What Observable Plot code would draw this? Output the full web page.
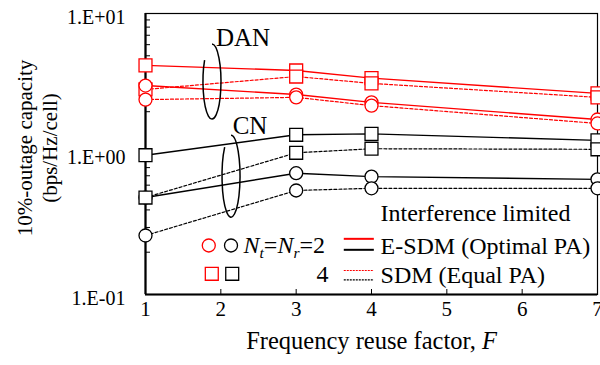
<!DOCTYPE html>
<html><head><meta charset="utf-8">
<script src="https://cdn.jsdelivr.net/npm/d3@7"></script>
<script src="https://cdn.jsdelivr.net/npm/@observablehq/plot@0.6"></script>
<style>
html,body{margin:0;padding:0;background:#fff;}
#chart svg{display:block;}
</style>
</head><body><div id="chart"></div>
<script>
// ---- data ----
const reuseF = [1, 3, 4, 7];
const danEsdm4 = [4.27, 3.93, 3.47, 2.70];
const danSdm4  = [2.88, 3.56, 3.18, 2.53];
const danEsdm2 = [3.07, 2.65, 2.33, 1.76];
const danSdm2  = [2.44, 2.53, 2.21, 1.65];
const cnEsdm4  = [0.98, 1.37, 1.39, 1.25];
const cnSdm4   = [0.49, 1.02, 1.09, 1.08];
const cnEsdm2  = [0.49, 0.73, 0.69, 0.66];
const cnSdm2   = [0.263, 0.55, 0.57, 0.57];

const xTicks = [1, 2, 3, 4, 5, 6, 7];
const xInnerTicks = [2, 3, 4, 5, 6];
const yTicks = [0.1, 1, 10];
const yTickLabels = ["1.E-01", "1.E+00", "1.E+01"];
const yMinorTicks = [0.2,0.3,0.4,0.5,0.6,0.7,0.8,0.9,2,3,4,5,6,7,8,9];

// ---- table ----
const rows = [];
function addSeries(net, scheme, ant, vals) {
  reuseF.forEach((f, i) => rows.push({F: f, v: vals[i], net, scheme, ant, key: net + scheme + ant}));
}
addSeries("DAN", "E-SDM", 4, danEsdm4);
addSeries("DAN", "SDM", 4, danSdm4);
addSeries("DAN", "E-SDM", 2, danEsdm2);
addSeries("DAN", "SDM", 2, danSdm2);
addSeries("CN", "E-SDM", 4, cnEsdm4);
addSeries("CN", "SDM", 4, cnSdm4);
addSeries("CN", "E-SDM", 2, cnEsdm2);
addSeries("CN", "SDM", 2, cnSdm2);

const RED = "#ff0000", BLK = "#000000";
const sel = (net, scheme, ant) => rows.filter(d => d.net === net && (scheme == null || d.scheme === scheme) && (ant == null || d.ant === ant));

function lineMarks(net, color) {
  return [
    Plot.line(sel(net, "E-SDM"), {x: "F", y: "v", z: "key", stroke: color, strokeWidth: 1.4}),
    Plot.line(sel(net, "SDM"), {x: "F", y: "v", z: "key", stroke: color, strokeWidth: 1.2, strokeDasharray: "3,2"})
  ];
}
function dotMark(net, ant, color) {
  return Plot.dot(sel(net, null, ant), {
    x: "F", y: "v", symbol: ant === 2 ? "circle" : "square", r: ant === 2 ? 6.5 : 7.3,
    fill: "white", stroke: color, strokeWidth: 1.3
  });
}

function ellipse(cxF, cyV, rx, ry, a0deg, a1deg) {
  return (index, scales) => {
    const cx = scales.x(cxF), cy = scales.y(cyV);
    const a0 = a0deg * Math.PI / 180, a1 = a1deg * Math.PI / 180;
    const p0 = [cx + rx * Math.cos(a0), cy + ry * Math.sin(a0)];
    const p1 = [cx + rx * Math.cos(a1), cy + ry * Math.sin(a1)];
    const g = d3.create("svg:g");
    g.append("path").attr("d", `M${p0[0]},${p0[1]}A${rx},${ry} 0 1 1 ${p1[0]},${p1[1]}`)
      .attr("fill", "none").attr("stroke", "black").attr("stroke-width", 1.5);
    return g.node();
  };
}

const plot = Plot.plot({
  width: 600, height: 365,
  marginLeft: 145, marginRight: 3, marginTop: 13, marginBottom: 71,
  x: {domain: [1, 7]},
  y: {type: "log", domain: [0.1, 10]},
  style: {fontFamily: "'Liberation Serif', 'Times New Roman', serif", fontSize: "21px", background: "white", overflow: "visible"},
  marks: [
    Plot.frame({stroke: "black", strokeWidth: 1.2}),
    Plot.ruleX([1], {stroke: "black", strokeWidth: 2.2}),
    Plot.ruleY([0.1], {stroke: "black", strokeWidth: 2.2}),
    Plot.tickY(yMinorTicks, {y: d => d, insetRight: 447, stroke: "black", strokeWidth: 1}),
    Plot.tickX(xInnerTicks, {x: d => d, insetTop: 276, stroke: "black", strokeWidth: 1}),
    Plot.axisX({ticks: xTicks, tickSize: 0, tickPadding: 7, tickFormat: d => String(d), fontSize: 21, label: null}),
    Plot.axisY({ticks: yTicks, tickSize: 0, tickPadding: 20, tickFormat: d => yTickLabels[yTicks.indexOf(d)], fontSize: 20, dy: 4, label: null}),
    // axis titles
    Plot.text([0], {frameAnchor: "bottom", dy: 54, text: () => "Frequency reuse factor, F", fontSize: 24.5}),
    Plot.text([0], {frameAnchor: "left", textAnchor: "middle", dx: -109, dy: -6, rotate: -90, lineHeight: 1.2,
      text: () => "10%-outage capacity\n(bps/Hz/cell)", fontSize: 21}),
    // data
    ...lineMarks("CN", BLK),
    ...lineMarks("DAN", RED),
    dotMark("CN", 2, BLK),
    dotMark("CN", 4, BLK),
    dotMark("DAN", 4, RED),
    dotMark("DAN", 2, RED),
    // group annotations
    ellipse(1.889, 3.25, 9, 37.5, -90, 215),
    ellipse(2.142, 0.69, 9, 41, -90, 225),
    Plot.text([0], {x: 2.294, y: 6.64, text: () => "DAN", fontSize: 25}),
    Plot.text([0], {x: 2.387, y: 1.58, text: () => "CN", fontSize: 25}),
    // legend
    Plot.text([0], {x: 4.12, y: 0.377, text: () => "Interference limited", textAnchor: "start", fontSize: 24}),
    Plot.dot([0], {x: 1.840, y: 0.2233, r: 6.5, stroke: RED, fill: "white", strokeWidth: 1.3}),
    Plot.dot([0], {x: 2.135, y: 0.2233, r: 6.5, stroke: BLK, fill: "white", strokeWidth: 1.3}),
    Plot.dot([0], {x: 1.880, y: 0.1404, r: 7.3, symbol: "square", stroke: RED, fill: "white", strokeWidth: 1.3}),
    Plot.dot([0], {x: 2.151, y: 0.1404, r: 7.3, symbol: "square", stroke: BLK, fill: "white", strokeWidth: 1.3}),
    Plot.text([0], {x: 2.301, y: 0.2233, text: () => "NtNr2", textAnchor: "start", fontSize: 24}),
    Plot.text([0], {x: 3.429, y: 0.1388, text: () => "4", textAnchor: "end", fontSize: 24}),
    Plot.link([0], {x1: 3.632, x2: 4.031, y1: 0.2490, y2: 0.2490, stroke: RED, strokeWidth: 2}),
    Plot.link([0], {x1: 3.632, x2: 4.031, y1: 0.2080, y2: 0.2080, stroke: BLK, strokeWidth: 2}),
    Plot.link([0], {x1: 3.632, x2: 4.031, y1: 0.1482, y2: 0.1482, stroke: RED, strokeWidth: 1.2, strokeDasharray: "2,1"}),
    Plot.link([0], {x1: 3.632, x2: 4.031, y1: 0.1272, y2: 0.1272, stroke: BLK, strokeWidth: 1.2, strokeDasharray: "2,1"}),
    Plot.text([0], {x: 4.12, y: 0.2214, text: () => "E-SDM (Optimal PA)", textAnchor: "start", fontSize: 24}),
    Plot.text([0], {x: 4.12, y: 0.1376, text: () => "SDM (Equal PA)", textAnchor: "start", fontSize: 24})
  ]
});
document.getElementById("chart").appendChild(plot);

// rich text (italics / subscripts)
d3.select(plot).selectAll("text").each(function () {
  const t = this.textContent;
  if (t === "Frequency reuse factor, F") {
    this.textContent = "Frequency reuse factor, ";
    d3.select(this).append("tspan").attr("font-style", "italic").text("F");
  } else if (t === "NtNr2") {
    this.textContent = "";
    const s = d3.select(this);
    s.append("tspan").attr("font-style", "italic").text("N");
    s.append("tspan").attr("font-style", "italic").attr("font-size", "0.65em").attr("dy", 5).text("t");
    s.append("tspan").attr("dy", -5).text("=");
    s.append("tspan").attr("font-style", "italic").text("N");
    s.append("tspan").attr("font-style", "italic").attr("font-size", "0.65em").attr("dy", 5).text("r");
    s.append("tspan").attr("dy", -5).text("=2");
  }
});
</script>
</body></html>
